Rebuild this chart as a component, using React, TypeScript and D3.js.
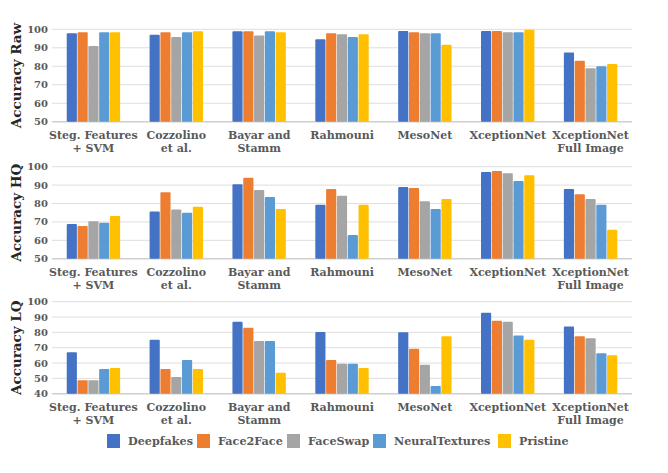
import React from "react";
import * as d3 from "d3";

const categories = [
  ["Steg. Features", "+ SVM"],
  ["Cozzolino", "et al."],
  ["Bayar and", "Stamm"],
  ["Rahmouni"],
  ["MesoNet"],
  ["XceptionNet"],
  ["XceptionNet", "Full Image"],
];
const series = ["Deepfakes", "Face2Face", "FaceSwap", "NeuralTextures", "Pristine"];
const colors = ["#4472C4", "#ED7D31", "#A5A5A5", "#5B9BD5", "#FFC000"];

// rows: categories, columns: series
const rawValues = [
  [97.8, 98.4, 91.0, 98.4, 98.4],
  [97.1, 98.4, 95.8, 98.4, 98.9],
  [98.9, 98.9, 96.7, 98.9, 98.4],
  [94.6, 97.8, 97.3, 95.8, 97.3],
  [99.1, 98.4, 97.8, 97.8, 91.7],
  [99.1, 99.1, 98.4, 98.4, 99.8],
  [87.5, 83.0, 78.9, 80.0, 81.2],
];
const hqValues = [
  [68.8, 67.8, 70.3, 69.6, 73.2],
  [75.7, 86.1, 76.8, 75.0, 78.3],
  [90.4, 94.0, 87.3, 83.5, 77.0],
  [79.3, 87.9, 84.2, 62.9, 79.3],
  [89.0, 88.4, 81.2, 77.0, 82.4],
  [97.1, 97.6, 96.4, 92.2, 95.3],
  [87.9, 85.0, 82.4, 79.3, 65.8],
];
const lqValues = [
  [67.0, 48.7, 48.7, 56.1, 56.7],
  [75.2, 56.1, 50.9, 62.0, 56.1],
  [87.0, 83.0, 74.3, 74.3, 53.7],
  [80.2, 62.0, 59.6, 59.6, 56.7],
  [80.0, 69.3, 58.9, 45.0, 77.4],
  [92.8, 87.6, 87.0, 78.0, 75.2],
  [83.9, 77.4, 76.1, 66.3, 65.0],
];
const rawTicks = [50, 60, 70, 80, 90, 100];
const hqTicks = [50, 60, 70, 80, 90, 100];
const lqTicks = [40, 50, 60, 70, 80, 90, 100];

const FONT = "'DejaVu Serif', serif";
const LEFT = 52;
const RIGHT = 632;

const panels = [
  { title: "Accuracy Raw", values: rawValues, ticks: rawTicks, top: 29.3, bottom: 121.7 },
  { title: "Accuracy HQ", values: hqValues, ticks: hqTicks, top: 166.7, bottom: 258.7 },
  { title: "Accuracy LQ", values: lqValues, ticks: lqTicks, top: 301.7, bottom: 393.7 },
];

const x0 = d3
  .scaleBand<number>()
  .domain(d3.range(categories.length))
  .range([LEFT, RIGHT])
  .paddingInner(0.34)
  .paddingOuter(0.17);
const x1 = d3
  .scaleBand<number>()
  .domain(d3.range(series.length))
  .range([0, x0.bandwidth()])
  .padding(0.06);

function Panel({ p }: { p: (typeof panels)[number] }) {
  const y = d3
    .scaleLinear()
    .domain([p.ticks[0], p.ticks[p.ticks.length - 1]])
    .range([p.bottom, p.top]);
  return (
    <g>
      {p.ticks.map((t, i) => (
        <g key={t}>
          <line
            x1={LEFT}
            x2={RIGHT}
            y1={y(t)}
            y2={y(t)}
            stroke={i === 0 ? "#cfcfcf" : "#dedede"}
            strokeWidth={i === 0 ? 1.5 : 1}
          />
          <text
            x={48}
            y={y(t)}
            dy="0.35em"
            textAnchor="end"
            fontFamily={FONT}
            fontWeight="bold"
            fontSize={10}
            fill="#595959"
          >
            {t}
          </text>
        </g>
      ))}
      {p.values.map((row, ci) =>
        row.map((v, si) => (
          <rect
            key={`${ci}-${si}`}
            x={(x0(ci) as number) + (x1(si) as number)}
            y={y(v)}
            width={x1.bandwidth()}
            height={y(p.ticks[0]) - y(v)}
            fill={colors[si]}
            rx={1}
          />
        ))
      )}
      {categories.map((lines, ci) => (
        <text
          key={ci}
          x={(x0(ci) as number) + x0.bandwidth() / 2}
          y={p.bottom + 17}
          textAnchor="middle"
          fontFamily={FONT}
          fontWeight="bold"
          fontSize={11}
          fill="#595959"
        >
          {lines.map((l, li) => (
            <tspan key={li} x={(x0(ci) as number) + x0.bandwidth() / 2} dy={li === 0 ? 0 : 13}>
              {l}
            </tspan>
          ))}
        </text>
      ))}
      <text
        transform={`translate(21,${(p.top + p.bottom) / 2}) rotate(-90)`}
        textAnchor="middle"
        fontFamily={FONT}
        fontWeight="bold"
        fontSize={13.5}
        fill="#262626"
      >
        {p.title}
      </text>
    </g>
  );
}

const legendX = [107, 197, 287, 373, 498];

export default function App() {
  return (
    <svg
      width={668}
      height={473}
      style={{ position: "absolute", left: 0, top: 0, background: "#fff" }}
    >
      <rect width={668} height={473} fill="#fff" />
      {panels.map((p) => (
        <Panel key={p.title} p={p} />
      ))}
      {series.map((s, i) => (
        <g key={s}>
          <rect x={legendX[i]} y={434} width={13} height={14} fill={colors[i]} />
          <text
            x={legendX[i] + 21}
            y={441}
            dy="0.35em"
            fontFamily={FONT}
            fontWeight="bold"
            fontSize={11.2}
            fill="#595959"
          >
            {s}
          </text>
        </g>
      ))}
    </svg>
  );
}
